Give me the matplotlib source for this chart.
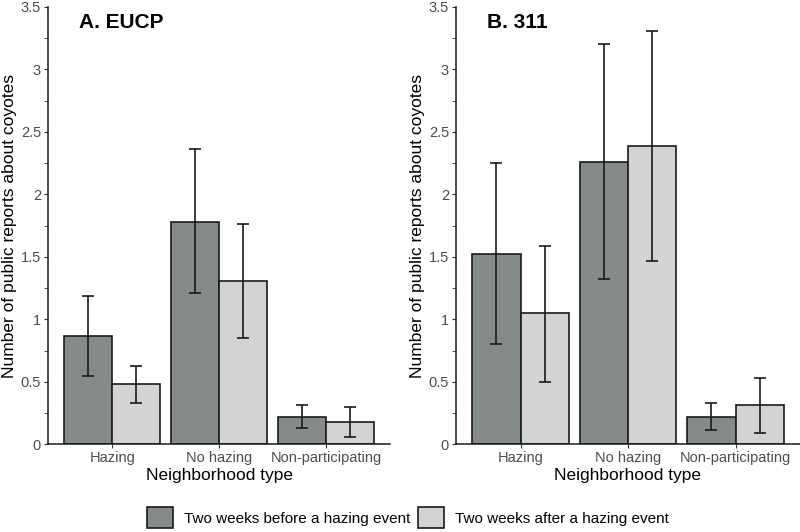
import matplotlib.pyplot as plt
import numpy as np
from matplotlib.patches import Patch

plt.rcParams['font.family'] = ['Liberation Sans', 'DejaVu Sans']

categories = ["Hazing", "No hazing", "Non-participating"]
series_names = ["Two weeks before a hazing event", "Two weeks after a hazing event"]
ytick_vals = [0, 0.5, 1, 1.5, 2, 2.5, 3, 3.5]
ytick_labels = ["0", "0.5", "1", "1.5", "2", "2.5", "3", "3.5"]

# A. EUCP
eucp_before = [0.87, 1.78, 0.22]
eucp_before_lo = [0.55, 1.21, 0.13]
eucp_before_hi = [1.19, 2.36, 0.31]
eucp_after = [0.48, 1.31, 0.18]
eucp_after_lo = [0.33, 0.85, 0.06]
eucp_after_hi = [0.63, 1.76, 0.30]

# B. 311
s311_before = [1.52, 2.26, 0.22]
s311_before_lo = [0.80, 1.32, 0.11]
s311_before_hi = [2.25, 3.20, 0.33]
s311_after = [1.05, 2.39, 0.31]
s311_after_lo = [0.50, 1.47, 0.09]
s311_after_hi = [1.59, 3.31, 0.53]

dark = "#858b89"
light = "#d3d3d3"

fig = plt.figure(figsize=(8, 5.32), dpi=100)
ax1 = fig.add_axes([0.06, 0.165, 0.428, 0.822])
ax2 = fig.add_axes([0.57, 0.165, 0.43, 0.822])


def panel(ax, title, before, blo, bhi, after, alo, ahi):
    x = np.arange(1, len(categories) + 1)
    w = 0.45
    for vals, lo, hi, col, off in [(before, blo, bhi, dark, -w / 2),
                                   (after, alo, ahi, light, w / 2)]:
        vals = np.array(vals)
        ax.bar(x + off, vals, width=w, color=col, edgecolor="#1a1a1a", linewidth=1.2, zorder=2)
        yerr = [vals - np.array(lo), np.array(hi) - vals]
        ax.errorbar(x + off, vals, yerr=yerr, fmt="none", ecolor="#1a1a1a",
                    elinewidth=1.2, capsize=4, capthick=1.2, zorder=3)
    ax.set_xlim(0.4, 3.6)
    ax.set_ylim(0, 3.5)
    ax.set_xticks(x)
    ax.set_xticklabels(categories)
    ax.set_yticks(ytick_vals)
    ax.set_yticklabels(ytick_labels)
    ax.set_yticks(np.arange(0.25, 3.5, 0.5), minor=True)
    ax.tick_params(axis="both", which="both", colors="#333333", labelcolor="#4d4d4d",
                   labelsize=10.5, length=3, pad=2)
    for s in ["top", "right"]:
        ax.spines[s].set_visible(False)
    for s in ["left", "bottom"]:
        ax.spines[s].set_linewidth(1.1)
        ax.spines[s].set_color("#1a1a1a")
    ax.set_xlabel("Neighborhood type", fontsize=12.5, labelpad=2)
    ax.set_ylabel("Number of public reports about coyotes", fontsize=12.5, labelpad=3)
    ax.text(0.09, 0.985, title, transform=ax.transAxes, fontsize=15,
            fontweight="bold", va="top", ha="left")


panel(ax1, "A. EUCP", eucp_before, eucp_before_lo, eucp_before_hi,
      eucp_after, eucp_after_lo, eucp_after_hi)
panel(ax2, "B. 311", s311_before, s311_before_lo, s311_before_hi,
      s311_after, s311_after_lo, s311_after_hi)

handles = [Patch(facecolor=dark, edgecolor="#1a1a1a", linewidth=1.2),
           Patch(facecolor=light, edgecolor="#1a1a1a", linewidth=1.2)]
fig.legend(handles, series_names, loc="center", bbox_to_anchor=(0.51, 0.027),
           ncol=2, frameon=False, fontsize=11, handlelength=1.7, handleheight=1.7,
           columnspacing=0.5, handletextpad=0.7)

fig.savefig("out.png", dpi=100)
